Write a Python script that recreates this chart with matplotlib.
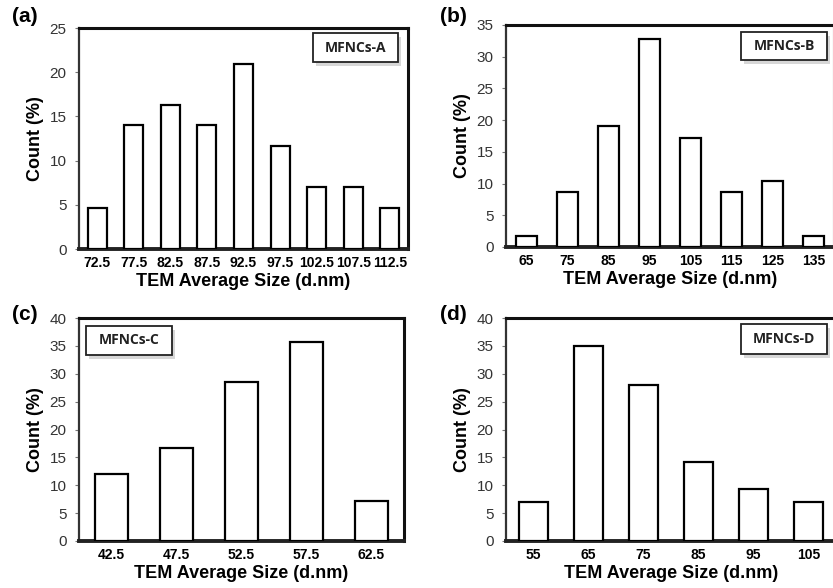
import matplotlib
matplotlib.use("Agg")
import matplotlib.pyplot as plt
from matplotlib.patches import Rectangle
import numpy as np

plt.rcParams['font.family'] = ['Liberation Sans', 'DejaVu Sans']

# data
sizes_a = ["72.5", "77.5", "82.5", "87.5", "92.5", "97.5", "102.5", "107.5", "112.5"]
count_a = [4.65, 14.0, 16.3, 14.0, 20.9, 11.65, 7.0, 7.0, 4.65]

sizes_b = ["65", "75", "85", "95", "105", "115", "125", "135"]
count_b = [1.7, 8.6, 19.0, 32.8, 17.25, 8.6, 10.35, 1.7]

sizes_c = ["42.5", "47.5", "52.5", "57.5", "62.5"]
count_c = [12.0, 16.7, 28.6, 35.7, 7.25]

sizes_d = ["55", "65", "75", "85", "95", "105"]
count_d = [7.0, 35.0, 28.0, 14.1, 9.35, 7.0]

W, H = 833, 588

panels = [
    # tag, labels, values, ymax, legend text, axes box (px), legend box (px), tag pos (px)
    ("(a)", sizes_a, count_a, 25, "MFNCs-A", (79, 28, 408, 249), (313, 33, 398, 62), (12, 16)),
    ("(b)", sizes_b, count_b, 35, "MFNCs-B", (506, 25, 834, 247), (741, 32, 827, 60), (440, 16)),
    ("(c)", sizes_c, count_c, 40, "MFNCs-C", (79, 318, 404, 541), (86, 326, 172, 355), (12, 315)),
    ("(d)", sizes_d, count_d, 40, "MFNCs-D", (506, 318, 836, 541), (741, 324, 827, 354), (440, 315)),
]

fig = plt.figure(figsize=(W / 100, H / 100), dpi=100)


def fig_rect(x0, y0, x1, y1):
    return [x0 / W, 1 - y1 / H, (x1 - x0) / W, (y1 - y0) / H]


for tag, labels, values, ymax, legtxt, abox, lbox, tpos in panels:
    ax = fig.add_axes(fig_rect(*abox))
    x = np.arange(len(labels))
    ax.bar(x, values, width=0.52, color="white", edgecolor="black", linewidth=1.6, zorder=3)
    ax.set_xlim(-0.5, len(labels) - 0.5)
    ax.set_ylim(0, ymax)
    ax.set_yticks(np.arange(0, ymax + 1, 5))
    ax.set_xticks(x)
    ax.set_xticklabels(labels, fontsize=10, fontweight="bold",
                       family=["Liberation Sans Narrow", "Liberation Sans"])
    ax.tick_params(axis="x", length=0, pad=5)
    ax.tick_params(axis="y", length=3, width=0.8, color="#777777",
                   labelsize=11, labelcolor="#333333", pad=6)
    for s in ["top", "right"]:
        ax.spines[s].set_linewidth(2.2)
        ax.spines[s].set_color("#111111")
    ax.spines["left"].set_linewidth(1.6)
    ax.spines["left"].set_color("#333333")
    ax.spines["bottom"].set_linewidth(2.8)
    ax.spines["bottom"].set_color("#222222")
    ax.set_ylabel("Count (%)", fontsize=13, fontweight="bold", labelpad=4)
    ax.set_xlabel("TEM Average Size (d.nm)", fontsize=13, fontweight="bold", labelpad=2)

    fig.text(tpos[0] / W, 1 - tpos[1] / H, tag, fontsize=15, fontweight="bold",
             ha="left", va="center")

    # legend-like label box with a soft shadow
    lx0, ly0, lx1, ly1 = lbox
    r = fig_rect(lx0, ly0, lx1, ly1)
    fig.patches.append(Rectangle((r[0] + 3 / W, r[1] - 4 / H), r[2], r[3],
                                 transform=fig.transFigure, facecolor="#bdbdbd",
                                 edgecolor="none", alpha=0.6, zorder=4))
    fig.patches.append(Rectangle((r[0], r[1]), r[2], r[3], transform=fig.transFigure,
                                 facecolor="white", edgecolor="#222222",
                                 linewidth=1.3, zorder=5))
    fig.text(r[0] + r[2] / 2, r[1] + r[3] / 2, legtxt, fontsize=10, fontweight="bold",
             family=["Open Sans", "DejaVu Sans"], color="#222222",
             ha="center", va="center", zorder=6)

fig.savefig("out.png", dpi=100)
